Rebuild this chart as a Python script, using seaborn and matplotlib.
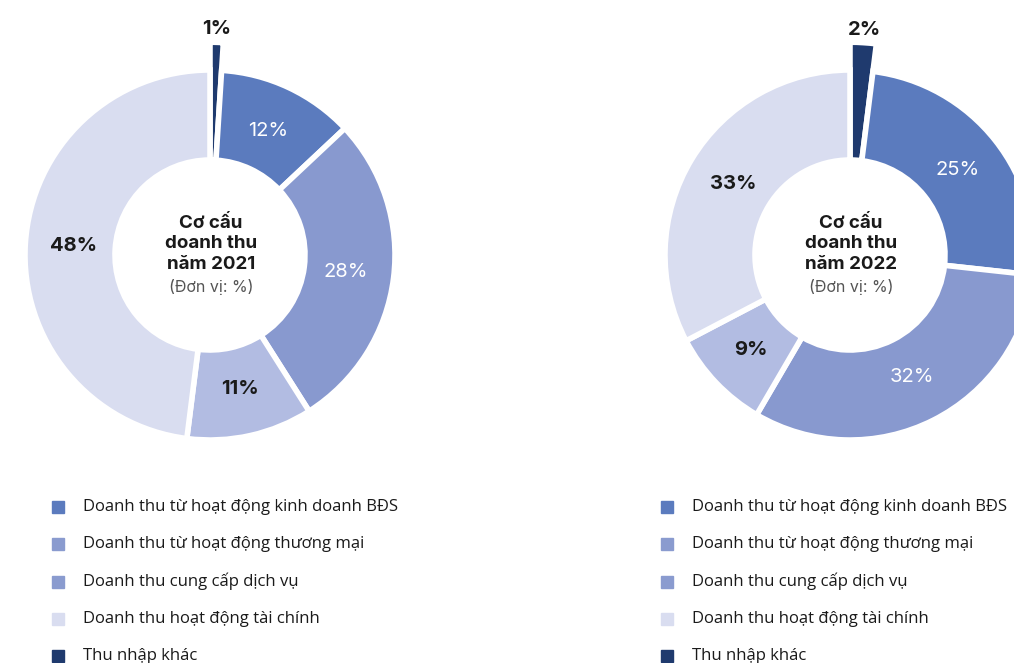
import numpy as np
import seaborn as sns
import matplotlib.pyplot as plt
from matplotlib.patches import Rectangle

categories = [
    "Thu nhập khác",
    "Doanh thu từ hoạt động kinh doanh BĐS",
    "Doanh thu từ hoạt động thương mại",
    "Doanh thu cung cấp dịch vụ",
    "Doanh thu hoạt động tài chính",
]
values_2021 = [1, 12, 28, 11, 48]
values_2022 = [2, 25, 32, 9, 33]
years = ["2021", "2022"]

slice_colors = ["#1f3a6e", "#5b7bbe", "#8899cf", "#b2bce2", "#d9ddf0"]
label_colors = ["#1a1a1a", "white", "white", "#1a1a1a", "#1a1a1a"]
label_weights = ["bold", "normal", "normal", "bold", "bold"]

# legend order as in the picture (same for both charts)
legend_order = [1, 2, 3, 4, 0]
legend_colors = ["#5b7bbe", "#8a9bcf", "#8a9bcf", "#d9ddf0", "#1f3a6e"]

sns.set_theme(style="white")
plt.rcParams['font.family'] = ['Open Sans', 'DejaVu Sans']
title_font = ['Inter', 'Open Sans', 'DejaVu Sans']

W, H = 1014, 663
fig = plt.figure(figsize=(W / 100, H / 100), dpi=100)
ax = fig.add_axes([0, 0, 1, 1])

R = 185
inner = 95
centers = [(210, H - 255), (850, H - 255)]
legend_x = [58, 667]

for vals, year, (cx, cy), lx in zip([values_2021, values_2022], years, centers, legend_x):
    labels = [f"{v}%" for v in vals]
    wedges, texts = ax.pie(vals, labels=labels, colors=slice_colors,
                           startangle=90, counterclock=False,
                           center=(cx, cy), radius=R, labeldistance=0.74,
                           wedgeprops=dict(width=R - inner, edgecolor='white', linewidth=4),
                           frame=True)
    # the small "other income" slice sticks out past the ring
    wedges[0].set_radius(R * 1.15)
    wedges[0].set_width(R * 1.15 - inner)
    for i, t in enumerate(texts):
        t.set_ha('center')
        t.set_va('center')
        t.set_color(label_colors[i])
        t.set_fontweight(label_weights[i])
        t.set_fontsize(14.5)
        t.set_family(title_font)
    # move the "other" label above the protruding slice
    w = wedges[0]
    mid = np.deg2rad((w.theta1 + w.theta2) / 2)
    texts[0].set_position((cx + 1.22 * R * np.cos(mid), cy + 1.22 * R * np.sin(mid)))

    ax.text(cx + 1, cy + 11, f"Cơ cấu\ndoanh thu\nnăm {year}", ha='center', va='center',
            fontsize=13.5, fontweight='bold', color='#1a1a1a', linespacing=1.25,
            family=title_font)
    ax.text(cx + 1, cy - 32, "(Đơn vị: %)", ha='center', va='center',
            fontsize=11.5, color='#555555', family=title_font)

    for row, idx in enumerate(legend_order):
        y = H - (507 + row * 37.3)
        ax.add_patch(Rectangle((lx - 6, y - 6), 12, 12, color=legend_colors[row]))
        ax.text(lx + 25, y, categories[idx], ha='left', va='center',
                fontsize=12, color='#1a1a1a')

ax.set_xlim(0, W)
ax.set_ylim(0, H)
ax.set_aspect('equal')
ax.axis('off')

fig.savefig("out.png", dpi=100)
